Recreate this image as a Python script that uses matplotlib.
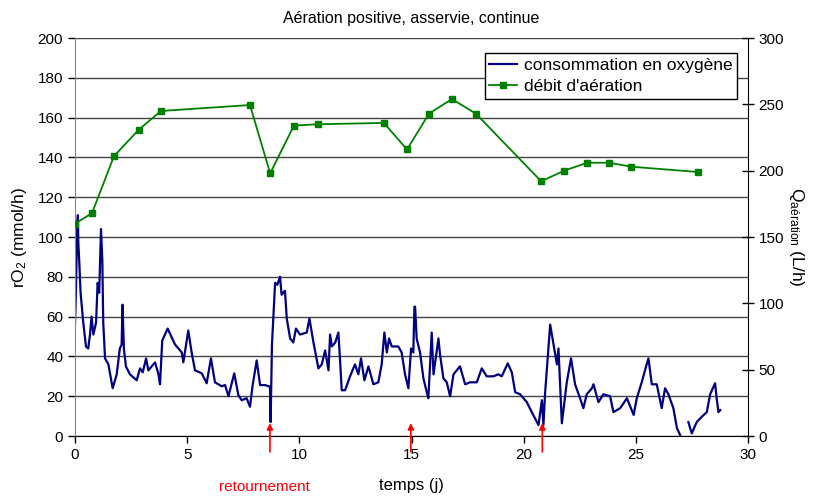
import matplotlib
matplotlib.use('Agg')
import matplotlib.pyplot as plt
import numpy as np

plt.rcParams['font.family'] = ['Liberation Sans', 'DejaVu Sans']

# débit d'aération (right axis, L/h)
t_aer = [0.0, 0.76, 1.74, 2.85, 3.83, 7.8, 8.7, 9.76, 10.83, 13.77, 14.8,
         15.78, 16.8, 17.87, 20.78, 21.8, 22.83, 23.8, 24.8, 27.77]
q_aer = [160, 168, 211, 231, 245, 249.5, 198, 234, 235, 236, 216,
         243, 254, 243, 192, 200, 206, 206, 203, 199]

# consommation en oxygène (left axis, mmol/h)
t_o2 = [0.0, 0.04, 0.1, 0.13, 0.15, 0.19, 0.25, 0.37, 0.49, 0.59, 0.67, 0.74, 0.82,
        0.94, 1.01, 1.08, 1.16, 1.22, 1.26, 1.34, 1.49, 1.68, 1.86, 2.0, 2.08,
        2.12, 2.18, 2.27, 2.45, 2.75, 2.9, 3.02, 3.17, 3.27, 3.57, 3.72, 3.79,
        3.89, 4.13, 4.46, 4.76, 4.83, 5.05, 5.2, 5.35, 5.65, 5.87, 6.06, 6.24,
        6.54, 6.69, 6.84, 7.1, 7.28, 7.43, 7.65, 7.8, 7.92, 8.1, 8.25, 8.47,
        8.69, 8.72, 8.78, 8.84, 8.92, 9.02, 9.14, 9.21, 9.36, 9.44, 9.59, 9.73,
        9.85, 10.03, 10.33, 10.45, 10.63, 10.85, 11.0, 11.15, 11.3, 11.37, 11.45,
        11.6, 11.74, 11.81, 11.89, 12.04, 12.26, 12.48, 12.63, 12.75, 12.9,
        13.08, 13.3, 13.52, 13.67, 13.79, 13.9, 14.0, 14.12, 14.41, 14.56,
        14.71, 14.86, 14.98, 15.08, 15.13, 15.16, 15.23, 15.38, 15.53, 15.68,
        15.75, 15.9, 15.98, 16.2, 16.27, 16.42, 16.57, 16.72, 16.87, 17.16,
        17.39, 17.61, 17.91, 18.13, 18.35, 18.65, 18.87, 19.02, 19.29, 19.47,
        19.62, 19.84, 20.14, 20.36, 20.66, 20.81, 20.88, 20.95, 21.18, 21.33,
        21.48, 21.55, 21.7, 21.92, 22.11, 22.29, 22.51, 22.66, 22.81, 23.04,
        23.11, 23.33, 23.55, 23.85, 24.0, 24.3, 24.6, 24.9, 25.04, 25.26,
        25.48, 25.56, 25.71, 25.93, 26.15, 26.3, 26.45, 26.67, 26.83, 26.97,
        27.1, 27.34, 27.49, 27.71, 27.94, 28.16, 28.31, 28.43, 28.53, 28.6,
        28.68, 28.76]
r_o2 = [56, 71, 106, 111, 97, 88, 72, 57, 45, 44, 51, 60, 51,
        57, 77, 72, 104, 88, 57, 39, 36, 24, 31, 44, 46,
        66, 44, 35, 31, 28, 34, 32, 39, 33, 37, 31, 26,
        48, 54, 46, 42, 37, 53, 42, 33, 31.5, 26.5, 39, 27,
        25, 25.6, 20, 31.5, 20.6, 18, 19, 14.7, 25.6, 38, 25.6, 25.6,
        24.8, 7, 46, 59, 77, 76, 80, 71, 73, 59, 49, 47,
        54, 51, 52, 59, 47, 34, 36, 43, 33, 51, 45,
        47, 52, 39, 23, 23, 30, 36, 31, 39, 28,
        35, 26, 27, 36, 52, 42, 49, 45, 45, 42,
        31, 24, 44, 42, 65, 65, 49, 42, 29, 22,
        19, 52, 31, 49, 41, 29, 27, 20, 31, 35,
        26, 27, 27, 34, 30, 30, 31, 30, 36.5, 32,
        22, 21, 17, 12, 5.5, 18, 5.5, 21, 56, 46,
        36, 44, 6.4, 27, 39, 26, 19, 14, 21, 24,
        26, 17, 21, 20, 12, 14, 19, 10.6, 19, 27,
        36, 39, 26, 26, 14, 24, 21, 14, 4, 0.5,
        np.nan, 7, 1.3, 7, 9.7, 12, 21, 24, 26.5, 19,
        12, 13]

retour_t = [8.69, 14.97, 20.83]

fig = plt.figure(figsize=(8.14, 5.01), dpi=100)
ax = fig.add_axes([0.0921, 0.1297, 0.8269, 0.7944])
ax2 = ax.twinx()

ax.plot(t_o2, r_o2, color='#000080', lw=1.6, label='consommation en oxygène')
ax2.plot(t_aer, q_aer, color='#008000', lw=1.3, marker='s', ms=4,
         label="débit d'aération")

ax.set_xlim(0, 30)
ax.set_ylim(0, 200)
ax2.set_ylim(0, 300)
ax.set_xticks(range(0, 31, 5))
ax.set_yticks(range(0, 201, 20))
ax2.set_yticks(range(0, 301, 50))
ax.yaxis.grid(True, color='#444444', lw=1)
ax.set_axisbelow(True)

for a in (ax, ax2):
    a.spines['top'].set_visible(False)
    a.tick_params(labelsize=11, length=5, width=1, colors='black')
ax.spines['left'].set_color('#888888')
ax2.spines['left'].set_visible(False)
ax.spines['right'].set_visible(False)
ax2.spines['bottom'].set_visible(False)
ax2.tick_params(axis='y', direction='inout', length=8)
ax.tick_params(axis='x', direction='out', length=5)

ax.set_ylabel(r'$\mathregular{rO_2}$ (mmol/h)', fontsize=12.5, labelpad=6)
ax2.set_ylabel(r'$\mathregular{Q_{aération}}$ (L/h)', fontsize=12.5,
               rotation=270, labelpad=16)
ax.set_xlabel('temps (j)', fontsize=12, labelpad=12)
ax.set_title('Aération positive, asservie, continue', fontsize=11.5, pad=11)

for t in retour_t:
    ax.annotate('', xy=(t, 6.5), xytext=(t, -8), annotation_clip=False,
                arrowprops=dict(arrowstyle='-|>', color='red', lw=1.2,
                                mutation_scale=9, shrinkA=0, shrinkB=0))
ax.text(8.45, -25.5, 'retournement', color='red', fontsize=11,
        ha='center', va='center', clip_on=False)

h1, l1 = ax.get_legend_handles_labels()
h2, l2 = ax2.get_legend_handles_labels()
leg = ax2.legend(h1 + h2, l1 + l2, loc='upper right', fontsize=12.5,
                 fancybox=False, framealpha=1, edgecolor='black',
                 bbox_to_anchor=(0.996, 0.983), handlelength=1.6,
                 borderpad=0.25, labelspacing=0.35, handletextpad=0.4)
leg.get_frame().set_linewidth(1)

plt.savefig('out.png', dpi=100)
